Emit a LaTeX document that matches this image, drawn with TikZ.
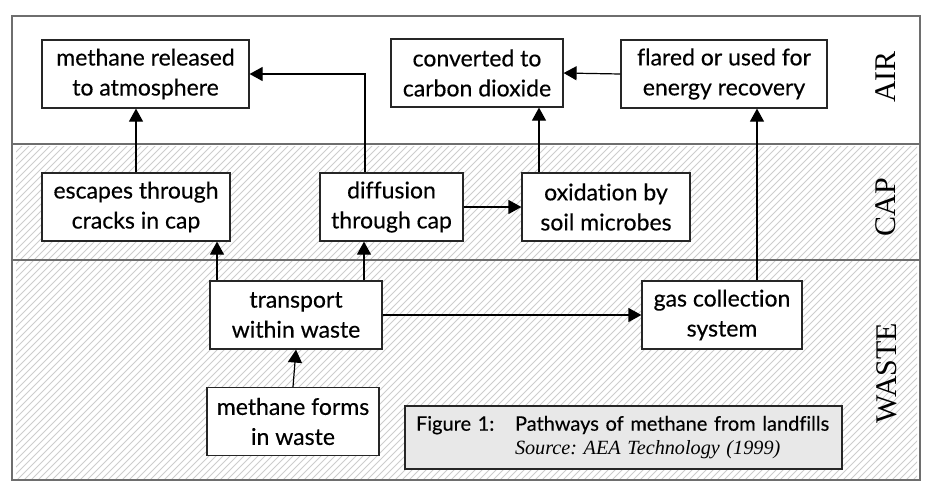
\documentclass[tikz,border=0pt]{standalone}
\usepackage{fontspec}
\setmainfont{Lato}[Ligatures=NoCommon, FakeBold=0.35]
\newfontfamily\bandfont{Liberation Serif}
\usetikzlibrary{arrows.meta}

\definecolor{hatchgray}{RGB}{205,205,205}
\definecolor{framegray}{RGB}{110,110,110}
\definecolor{capgray}{RGB}{232,232,232}

\tikzset{
  stage/.style={draw=black!85, fill=white, line width=0.6pt, align=center,
    inner sep=0pt, minimum height=34pt, font=\fontsize{11.5}{15}\selectfont},
  flow/.style={line width=0.6pt, -{Triangle[length=6.5pt,width=7pt]}},
  band/.style={rotate=90, font=\bandfont\fontsize{15}{15}\selectfont}
}

\begin{document}
\frenchspacing
\begin{tikzpicture}[x=0.5pt,y=-0.5pt]
\useasboundingbox (0,0) rectangle (934,494);

% hatched layers
\begin{scope}
\clip (16,146) rectangle (917,478);
\foreach \i in {-340,-333,...,920}
  \draw[hatchgray, line width=0.4pt] (\i,480) -- (\i+336,144);
\end{scope}
\draw[framegray, line width=0.6pt] (12,16) rectangle (920,480);
\draw[framegray, line width=0.6pt] (12,144) -- (920,144);
\draw[framegray, line width=0.6pt] (12,260) -- (920,260);

% layer names
\node[band] (air) at (886,77) {AIR};
\node[band] (cap) at (886,207) {CAP};
\node[band] (waste) at (887,373) {WASTE};

% AIR
\node[stage, minimum width=103.5pt] (released) at (145.5,74) {methane released\\to atmosphere};
\node[stage, minimum width=86pt] (converted) at (477,73) {converted to\\carbon dioxide};
\node[stage, minimum width=103pt] (flared) at (724,74) {flared or used for\\energy recovery};

% CAP
\node[stage, minimum width=94pt] (escapes) at (136,207) {escapes through\\cracks in cap};
\node[stage, minimum width=71.5pt] (diffusion) at (391.5,207) {diffusion\\through cap};
\node[stage, minimum width=84pt] (oxidation) at (606,207) {oxidation by\\soil microbes};

% WASTE
\node[stage, minimum width=86pt] (transport) at (296,315) {transport\\within waste};
\node[stage, minimum width=80pt] (gas) at (722,315) {gas collection\\system};
\node[stage, minimum width=86pt] (forms) at (293,421.5) {methane forms\\in waste};

\node[draw=black!85, fill=capgray, line width=0.6pt, text width=207.5pt,
  minimum height=31.5pt, inner xsep=5.5pt, inner ysep=0pt, align=left] (caption) at (623.5,437.5)
  {\mbox{\fontsize{10}{14}\selectfont\makebox[49.5pt][l]{Figure 1:}Pathways of methane from landfills}\\
   \mbox{\hspace*{49.5pt}\bandfont\itshape\fontsize{10.1}{13}\selectfont Source: AEA Technology (1999)}};

% pathways
\draw[flow] (forms.north) -- (transport.south);
\draw[flow] ([xshift=-39.5pt]transport.north) -- ([xshift=-39.5pt]transport.north |- escapes.south);
\draw[flow] ([xshift=34pt]transport.north) -- ([xshift=34pt]transport.north |- diffusion.south);
\draw[flow] (transport.east) -- (gas.west);
\draw[flow] (escapes.north) -- (escapes.north |- released.south);
\draw[flow] ([xshift=-13.25pt]diffusion.north) |- (released.east);
\draw[flow] (diffusion.east) -- (oxidation.west);
\draw[flow] ([xshift=-33.5pt]oxidation.north) -- ([xshift=-33.5pt]oxidation.north |- converted.south);
\draw[flow] (flared.west) -- (converted.east);
\draw[flow] ([xshift=17.5pt]gas.north) -- ([xshift=17.5pt]gas.north |- flared.south);
\end{tikzpicture}
\end{document}
